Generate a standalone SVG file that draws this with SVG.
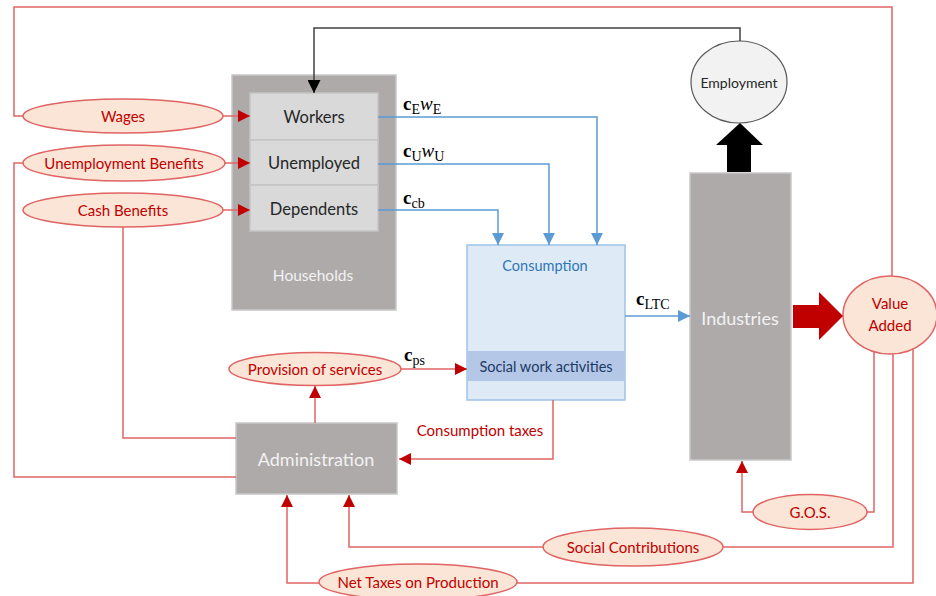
<svg xmlns="http://www.w3.org/2000/svg" width="936" height="596" viewBox="0 0 936 596">
<style>
.red{fill:none;stroke:#e06464;stroke-width:1.5}
.blue{fill:none;stroke:#5b9bd5;stroke-width:1.5}
.blk{fill:none;stroke:#404040;stroke-width:1.5}
.oval{fill:#fbe5d6;stroke:#e06464;stroke-width:1.5}
.gbox{fill:#aeaaaa;stroke:#c8c8c8;stroke-width:1.5}
.ibox{fill:#d9d9d9;stroke:#c4c4c4;stroke-width:1.5}
.t{font-family:Lato,"Liberation Sans",sans-serif;text-anchor:middle;dominant-baseline:central}
.rt{fill:#c00000;font-size:15px}
.dk{fill:#262626;font-size:16.5px}
.wt{fill:#f2f2f2}
.m{font-family:"Liberation Serif","DejaVu Serif",serif;fill:#000}
</style>
<defs>
<marker id="ar" viewBox="0 0 10 10" refX="10" refY="5" markerUnits="userSpaceOnUse" markerWidth="12" markerHeight="12" orient="auto"><path d="M0,0L10,5L0,10z" fill="#c00000"/></marker>
<marker id="ab" viewBox="0 0 10 10" refX="10" refY="5" markerUnits="userSpaceOnUse" markerWidth="12" markerHeight="12" orient="auto"><path d="M0,0L10,5L0,10z" fill="#5b9bd5"/></marker>
<marker id="ak" viewBox="0 0 10 10" refX="10" refY="5" markerUnits="userSpaceOnUse" markerWidth="13" markerHeight="13" orient="auto"><path d="M0,0L10,5L0,10z" fill="#000"/></marker>
</defs>

<g id="households">
<rect class="gbox" x="232" y="75" width="164" height="235"/>
<text class="t wt" x="313" y="275" font-size="15.5">Households</text>
</g>
<g id="workers">
<rect class="ibox" x="250" y="93" width="128" height="47"/>
<text class="t dk" x="314" y="117">Workers</text>
</g>
<g id="unemployed">
<rect class="ibox" x="250" y="140" width="128" height="45"/>
<text class="t dk" x="314" y="163">Unemployed</text>
</g>
<g id="dependents">
<rect class="ibox" x="250" y="185" width="128" height="46"/>
<text class="t dk" x="314" y="209">Dependents</text>
</g>

<g id="wages">
<ellipse class="oval" cx="123" cy="116" rx="100" ry="17"/>
<text class="t rt" x="123" y="116">Wages</text>
</g>
<g id="unemployment-benefits">
<ellipse class="oval" cx="124" cy="163" rx="101" ry="18"/>
<text class="t rt" x="124" y="163">Unemployment  Benefits</text>
</g>
<g id="cash-benefits">
<ellipse class="oval" cx="123" cy="210" rx="100" ry="17"/>
<text class="t rt" x="123" y="210">Cash Benefits</text>
</g>

<g id="consumption">
<rect x="467" y="245" width="158" height="155" fill="#deebf7" stroke="#9dc3e6" stroke-width="1.5"/>
<rect x="467.75" y="351" width="156.5" height="30" fill="#b4c7e7"/>
<text class="t" x="545" y="265" font-size="14.5" fill="#2e75b6">Consumption</text>
<text class="t" x="546" y="366" font-size="14.5" fill="#203864">Social work activities</text>
</g>

<g id="provision-of-services">
<ellipse class="oval" cx="315" cy="369" rx="86" ry="16.5"/>
<text class="t rt" x="315" y="369">Provision of services</text>
</g>

<g id="administration">
<rect class="gbox" x="236" y="423" width="161" height="71"/>
<text class="t wt" x="316" y="459" font-size="18">Administration</text>
</g>

<g id="employment">
<ellipse cx="739" cy="82" rx="48" ry="41" fill="#f2f2f2" stroke="#595959" stroke-width="1.2"/>
<text class="t" x="739" y="82" font-size="14" fill="#262626">Employment</text>
</g>

<g id="industries">
<rect class="gbox" x="690" y="173" width="101" height="287"/>
<text class="t wt" x="740" y="318" font-size="18">Industries</text>
</g>

<g id="value-added">
<ellipse class="oval" cx="890" cy="315" rx="47" ry="39"/>
<text class="t rt" x="890" y="303">Value</text>
<text class="t rt" x="890" y="325">Added</text>
</g>

<g id="gos">
<ellipse class="oval" cx="810" cy="512" rx="57" ry="17.5"/>
<text class="t rt" x="810" y="512">G.O.S.</text>
</g>
<g id="social-contributions">
<ellipse class="oval" cx="633" cy="547" rx="90" ry="19"/>
<text class="t rt" x="633" y="547">Social Contributions</text>
</g>
<g id="net-taxes">
<ellipse class="oval" cx="418" cy="582" rx="99" ry="18"/>
<text class="t rt" x="418" y="582">Net Taxes on Production</text>
</g>

<g id="connectors">
<path class="red" d="M23,116H14V7H892V276"/>
<path class="red" d="M23,163H14V477H236"/>
<path class="red" d="M123,227V438H236"/>
<path class="red" d="M223,116H250" marker-end="url(#ar)"/>
<path class="red" d="M225,163H250" marker-end="url(#ar)"/>
<path class="red" d="M223,210H250" marker-end="url(#ar)"/>
<path class="red" d="M315,423V386" marker-end="url(#ar)"/>
<path class="red" d="M401,369H467" marker-end="url(#ar)"/>
<path class="red" d="M553,400V459H399" marker-end="url(#ar)"/>
<path class="red" d="M874,351.5V512H867"/>
<path class="red" d="M753,512H742V461" marker-end="url(#ar)"/>
<path class="red" d="M893,354V547H723"/>
<path class="red" d="M543,547H349V495" marker-end="url(#ar)"/>
<path class="red" d="M913,349V583H517"/>
<path class="red" d="M319,583H287V495" marker-end="url(#ar)"/>
<path class="blue" d="M378,117H597V245" marker-end="url(#ab)"/>
<path class="blue" d="M378,164H549V245" marker-end="url(#ab)"/>
<path class="blue" d="M378,210H498V245" marker-end="url(#ab)"/>
<path class="blue" d="M625,316H690" marker-end="url(#ab)"/>
<path class="blk" d="M740,41V28H314V93" marker-end="url(#ak)"/>
<path d="M727,172V145H716L740,123L763,145H751V172z" fill="#000"/>
<path d="M793,305H819V292L843,316L819,340V328H793z" fill="#c00000"/>
<text class="m" x="403" y="110" font-size="19" font-weight="bold">c<tspan font-size="14" font-weight="normal" dy="4">E</tspan><tspan font-style="italic" font-weight="normal" font-size="19" dy="-4">w</tspan><tspan font-size="14" font-weight="normal" dy="4">E</tspan></text>
<text class="m" x="403" y="157" font-size="19" font-weight="bold">c<tspan font-size="14" font-weight="normal" dy="4">U</tspan><tspan font-style="italic" font-weight="normal" font-size="19" dy="-4">w</tspan><tspan font-size="14" font-weight="normal" dy="4">U</tspan></text>
<text class="m" x="403" y="204" font-size="19" font-weight="bold">c<tspan font-size="14" font-weight="normal" dy="4">cb</tspan></text>
<text class="m" x="404" y="361" font-size="19" font-weight="bold">c<tspan font-size="14" font-weight="normal" dy="4">ps</tspan></text>
<text class="m" x="636" y="305" font-size="19" font-weight="bold">c<tspan font-size="14" font-weight="normal" dy="4">LTC</tspan></text>
<text class="t rt" x="480" y="430">Consumption taxes</text>
</g>
</svg>
